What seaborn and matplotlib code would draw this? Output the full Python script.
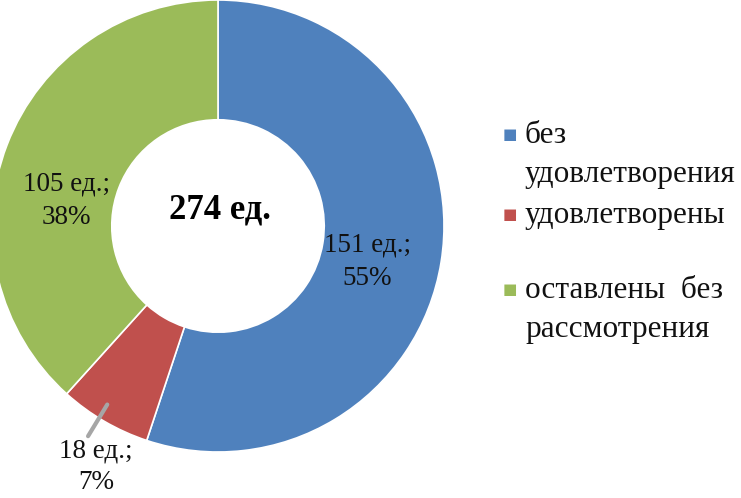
import seaborn as sns
import matplotlib.pyplot as plt

# data
categories = ["без\nудовлетворения", "удовлетворены", "оставлены  без\nрассмотрения"]
counts = [151, 18, 105]
percents = [55, 7, 38]
total = 274
colors = ["#4F81BD", "#C0504D", "#9BBB59"]

sns.set_theme(style="white")
plt.rcParams['font.family'] = ['Liberation Serif', 'DejaVu Serif']

fig = plt.figure(figsize=(7.41, 4.98), dpi=100)
ax = fig.add_axes([-8 / 741, 46 / 498, 452 / 741, 452 / 498])

ax.pie(counts, colors=colors, startangle=90, counterclock=False,
       wedgeprops=dict(width=0.53, edgecolor="white", linewidth=1.2))
ax.set_xlim(-1, 1)
ax.set_ylim(-1, 1)
ax.set_aspect("equal")

# slice labels
label_pos = [(0.66, -0.16), (-0.54, -1.065), (-0.67, 0.11)]
spacing = [1.45, 1.3, 1.45]
for (x, y), n, p, ls in zip(label_pos, counts, percents, spacing):
    ax.text(x, y, f"{n} ед.;\n{p}%", ha="center", va="center",
            fontsize=19.5, linespacing=ls, color="#111111")

# leader line for the small slice
ax.plot([-0.49, -0.575], [-0.79, -0.93], color="#a6a6a6", lw=3,
        solid_capstyle="round", clip_on=False)

# center total
ax.text(0.01, 0.07, f"{total} ед.", ha="center", va="center",
        fontsize=25, fontweight="bold", color="black")

# legend
legend_y = [143, 223, 298]
line_gap = 39
for lab, c, yb in zip(categories, colors, legend_y):
    fig.text(503 / 741, 1 - (yb - 4) / 498, "■", color=c, fontsize=11,
             family="DejaVu Sans", ha="left", va="baseline")
    for i, line in enumerate(lab.split("\n")):
        fig.text(525 / 741, 1 - (yb + i * line_gap) / 498, line,
                 fontsize=22.5, ha="left", va="baseline", color="#111111")

fig.savefig("out.png", dpi=100)
